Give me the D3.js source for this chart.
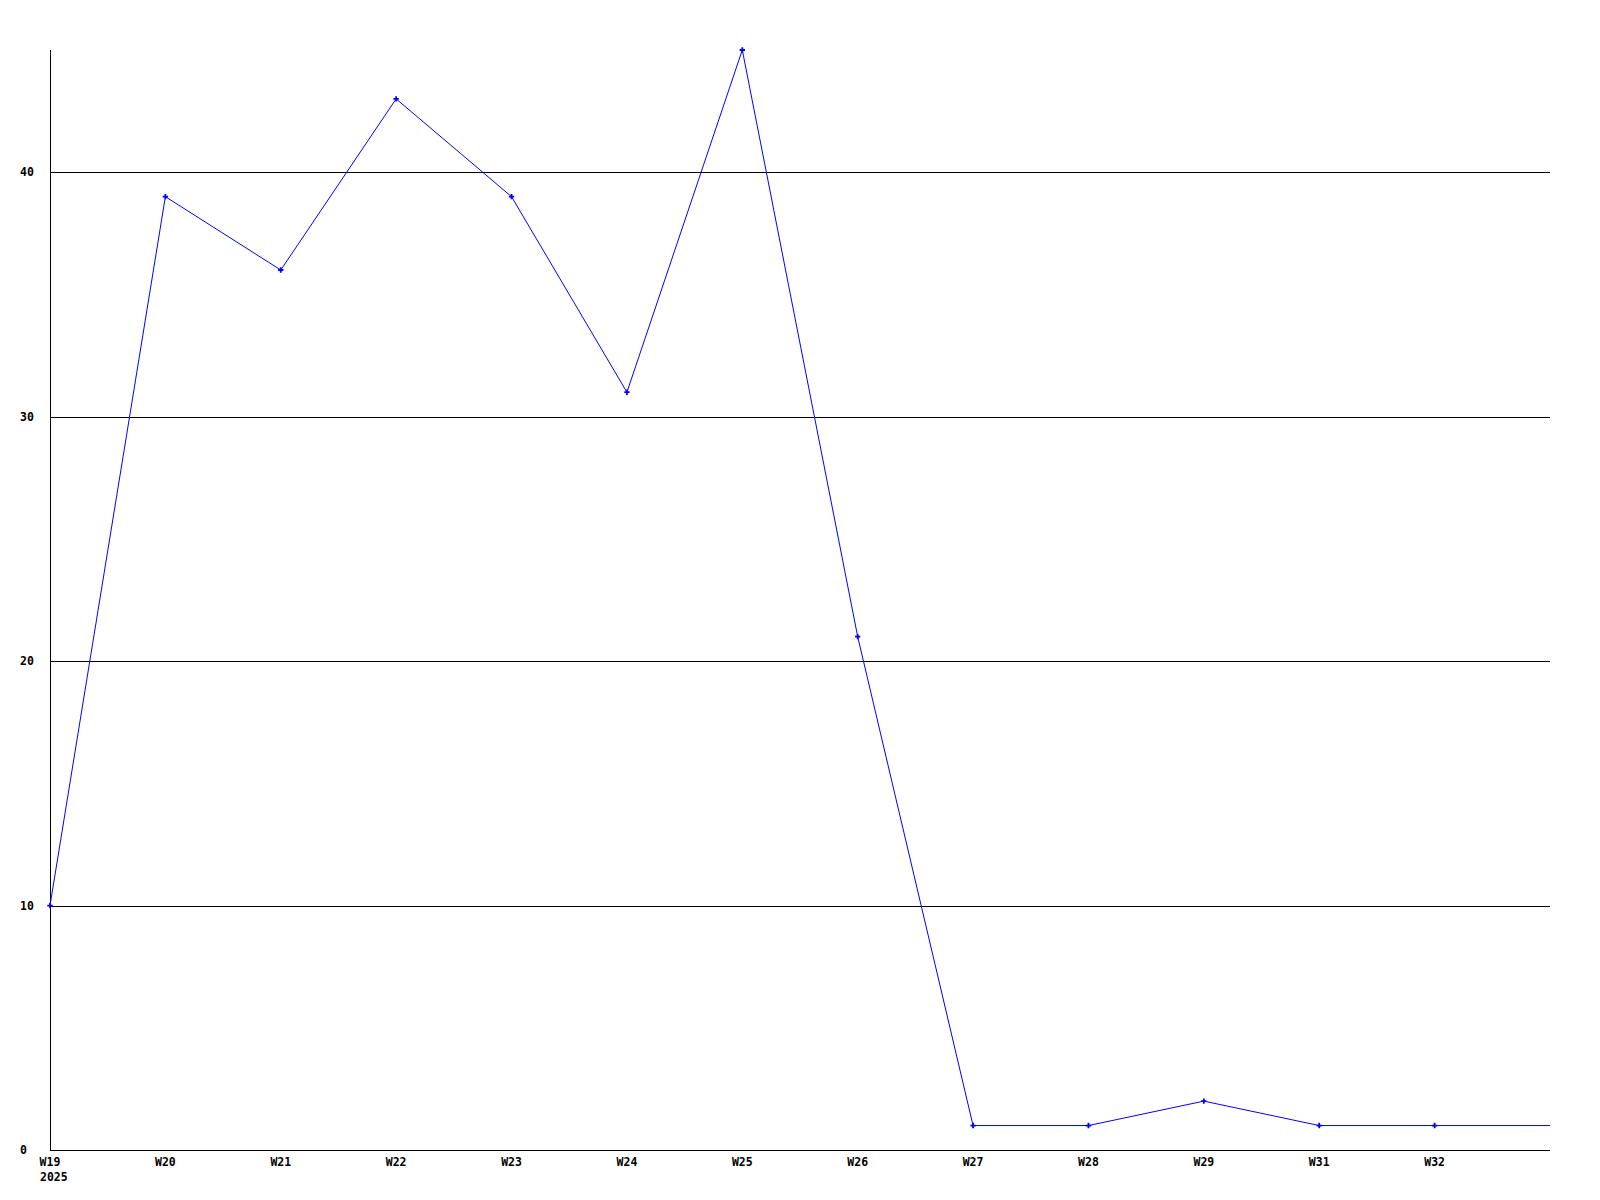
<!DOCTYPE html>
<html><head><meta charset="utf-8">
<script src="https://cdn.jsdelivr.net/npm/d3@7"></script>
<style>body{margin:0;background:#fff}svg{display:block}text{font-family:"DejaVu Sans Mono",monospace;font-weight:bold;font-size:11.5px;fill:#000}</style>
</head><body>
<script>
const categories = ["W19","W20","W21","W22","W23","W24","W25","W26","W27","W28","W29","W31","W32",""];
const values = [10,39,36,43,39,31,45,21,1,1,2,1,1,1];
const yTicks = [0,10,20,30,40];
const yearLabel = "2025";

const W=1600,H=1200;
const svg=d3.select("body").append("svg").attr("width",W).attr("height",H);
const x=d3.scalePoint().domain(d3.range(categories.length)).range([50,1550]);
const y=d3.scaleLinear().domain([0,45]).range([1150,50]);
const cr=v=>Math.round(v)+0.5;

// grid lines
svg.selectAll("line.grid").data(yTicks.filter(t=>t>0)).join("line")
 .attr("x1",50).attr("x2",1550).attr("y1",d=>cr(y(d))).attr("y2",d=>cr(y(d)))
 .attr("stroke","#000").attr("stroke-width",1);
// axes
svg.append("line").attr("x1",50).attr("x2",1550).attr("y1",cr(y(0))).attr("y2",cr(y(0))).attr("stroke","#000");
svg.append("line").attr("x1",50.5).attr("x2",50.5).attr("y1",50).attr("y2",cr(y(0))).attr("stroke","#000");

// y labels
svg.selectAll("text.yl").data(yTicks).join("text")
 .attr("x",20).attr("y",d=>y(d)+4).text(d=>d);
// x labels
svg.selectAll("text.xl").data(categories.map((c,i)=>({c,i})).filter(d=>d.c)).join("text")
 .attr("x",d=>x(d.i)).attr("y",1166).attr("text-anchor","middle").text(d=>d.c);
svg.append("text").attr("x",x(0)-10).attr("y",1181).text(yearLabel);

// line
const line=d3.line().x((d,i)=>x(i)).y(d=>y(d));
svg.append("path").datum(values).attr("d",line).attr("fill","none").attr("stroke","#0000ff").attr("stroke-width",1);
// markers
svg.selectAll("path.m").data(values.map((v,i)=>({v,i})).filter(d=>categories[d.i])).join("path")
 .attr("transform",d=>`translate(${x(d.i)},${y(d.v)})`)
 .attr("d",d3.symbol(d3.symbolCross).size(16)).attr("fill","#0000ff");
</script>
</body></html>
